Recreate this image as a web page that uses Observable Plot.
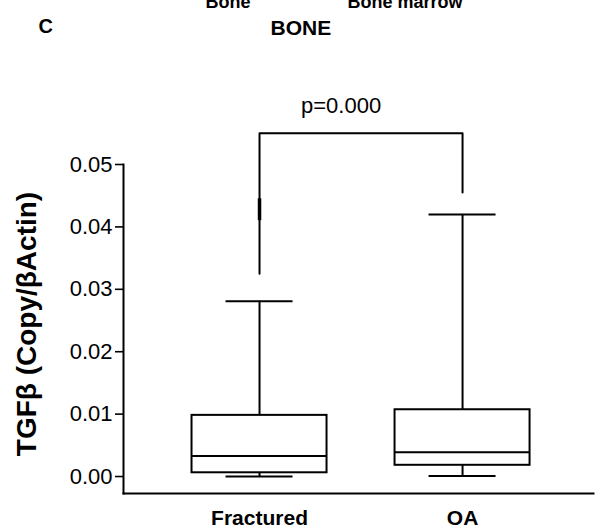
<!DOCTYPE html>
<html>
<head>
<meta charset="utf-8">
<script src="https://cdn.jsdelivr.net/npm/d3@7"></script>
<script src="https://cdn.jsdelivr.net/npm/@observablehq/plot@0.6"></script>
<style>
  html, body { margin: 0; padding: 0; background: #fff; }
  svg { font-family: "Liberation Sans", Arial, sans-serif; }
</style>
</head>
<body>
<div id="chart"></div>
<script>
// ---- data ----
const groups = ["Fractured", "OA"];
const whiskerLow = [0.0000, 0.0001];
const q1 = [0.0006, 0.0018];
const median = [0.0033, 0.0039];
const q3 = [0.0098, 0.0107];
const whiskerHigh = [0.0281, 0.0420];
const yTicks = [0, 0.01, 0.02, 0.03, 0.04, 0.05];
const pLabel = "p=0.000";
const bracketTop = 0.0550;
const bracketLegEnd = [0.0325, 0.0455];
const bracketMark = [0.0410, 0.0445];
const yLabel = "TGFβ (Copy/βActin)";
const panelLetter = "C";
const panelTitle = "BONE";
const topLabels = ["Bone", "Bone marrow"];

// table built from arrays
const boxes = groups.map((g, i) => ({
  g, i, low: whiskerLow[i], q1: q1[i], med: median[i], q3: q3[i], high: whiskerHigh[i]
}));
const bracket = [
  {x: 0, y: bracketLegEnd[0]},
  {x: 0, y: bracketTop},
  {x: 1, y: bracketTop},
  {x: 1, y: bracketLegEnd[1]}
];

const boxHalf = 0.3325, capHalf = 0.165;
const font = "Liberation Sans, Arial, sans-serif";

const chart = Plot.plot({
  width: 595,
  height: 529,
  marginLeft: 123,
  marginRight: 2,
  marginTop: 164,
  marginBottom: 36,
  style: {fontFamily: font, color: "#000", background: "#fff", overflow: "visible"},
  x: {type: "linear", domain: [-0.670, 1.645]},
  y: {domain: [-0.00272, 0.05]},
  marks: [
    Plot.frame({anchor: "left", stroke: "#000", strokeWidth: 2}),
    Plot.frame({anchor: "bottom", stroke: "#000", strokeWidth: 2}),
    Plot.axisY({ticks: yTicks, tickFormat: d3.format(".2f"), tickSize: 8, tickPadding: 3,
      fontSize: 22, strokeWidth: 1.6, label: null}),
    Plot.axisX({ticks: [0, 1], tickFormat: (d) => groups[d], tickSize: 0, tickPadding: 17,
      fontSize: 21, fontWeight: "bold", label: null}),
    // whiskers
    Plot.ruleX(boxes, {x: "i", y1: "low", y2: "q1", stroke: "#000", strokeWidth: 2}),
    Plot.ruleX(boxes, {x: "i", y1: "q3", y2: "high", stroke: "#000", strokeWidth: 2}),
    // caps
    Plot.ruleY(boxes, {y: "low", x1: (d) => d.i - capHalf, x2: (d) => d.i + capHalf, stroke: "#000", strokeWidth: 2}),
    Plot.ruleY(boxes, {y: "high", x1: (d) => d.i - capHalf, x2: (d) => d.i + capHalf, stroke: "#000", strokeWidth: 2}),
    // boxes
    Plot.rect(boxes, {x1: (d) => d.i - boxHalf, x2: (d) => d.i + boxHalf, y1: "q1", y2: "q3",
      fill: "none", stroke: "#000", strokeWidth: 2}),
    Plot.ruleY(boxes, {y: "med", x1: (d) => d.i - boxHalf, x2: (d) => d.i + boxHalf, stroke: "#000", strokeWidth: 2}),
    // significance bracket
    Plot.line(bracket, {x: "x", y: "y", stroke: "#000", strokeWidth: 2}),
    Plot.ruleX([0], {x: (d) => d, y1: bracketMark[0], y2: bracketMark[1], stroke: "#000", strokeWidth: 3.5}),
    Plot.text([pLabel], {x: 0.5, y: bracketTop, text: (d) => d, dx: -20, dy: -20,
      lineAnchor: "bottom", fontSize: 22, fill: "#000"}),
    // y-axis label
    Plot.text([yLabel], {frameAnchor: "left", text: (d) => d, rotate: -90, dx: -96, dy: -5,
      textAnchor: "middle", lineAnchor: "middle", fontSize: 28, fontWeight: "bold", fill: "#000"}),
    // panel texts
    Plot.text([panelLetter], {frameAnchor: "top-left", text: (d) => d, dx: -85, dy: -132,
      textAnchor: "start", lineAnchor: "bottom", fontSize: 20, fontWeight: "bold", fill: "#000"}),
    Plot.text([panelTitle], {frameAnchor: "top-left", text: (d) => d, dx: 147, dy: -130,
      textAnchor: "start", lineAnchor: "bottom", fontSize: 21, fontWeight: "bold", fill: "#000"}),
    Plot.text([topLabels[0]], {frameAnchor: "top-left", text: (d) => d, dx: 82, dy: -157,
      textAnchor: "start", lineAnchor: "bottom", fontSize: 18, fontWeight: "bold", fill: "#000"}),
    Plot.text([topLabels[1]], {frameAnchor: "top-left", text: (d) => d, dx: 224, dy: -157,
      textAnchor: "start", lineAnchor: "bottom", fontSize: 18, fontWeight: "bold", fill: "#000"})
  ]
});
document.getElementById("chart").appendChild(chart);
</script>
</body>
</html>
